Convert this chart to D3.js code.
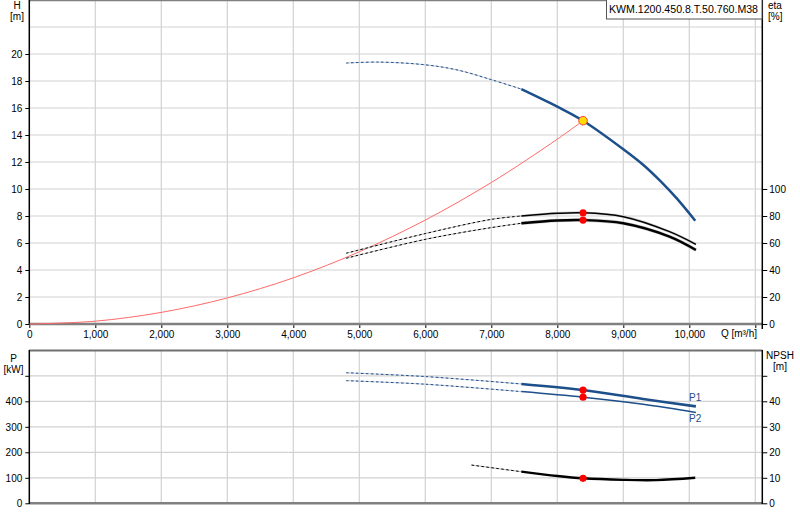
<!DOCTYPE html>
<html>
<head>
<meta charset="utf-8">
<script src="https://cdn.jsdelivr.net/npm/d3@7"></script>
<style>
  body { margin: 0; background: #fff; }
  svg { font-family: "Liberation Sans", Arial, sans-serif; font-size: 10px; }
</style>
</head>
<body>
<div id="chart"></div>
<script>
// pump curve data, read from the sheet
var qTicks = [0, 1000, 2000, 3000, 4000, 5000, 6000, 7000, 8000, 9000, 10000, 11000];
var hTicks = [0, 2, 4, 6, 8, 10, 12, 14, 16, 18, 20, 22, 24];
var etaTicks = [0, 20, 40, 60, 80, 100];
var pTicks = [0, 100, 200, 300, 400, 500, 600];
var npshTicks = [0, 10, 20, 30, 40, 50];

var pumpName = "KWM.1200.450.8.T.50.760.M38";
var solidFrom = 7455;      // curves dashed below this flow
var dutyQ = 8390;
var dutyH = 15.06;

// head curve
var qHead = [4800, 5300, 6000, 6500, 7000, 7455, 8000, 8390, 9000, 9300, 9560, 9810, 10090];
var head = [19.33, 19.4, 19.2, 18.8, 18.1, 17.4, 16.1, 15.06, 12.95, 11.8, 10.6, 9.3, 7.65];

// system curve
var qSys = [0, 1000, 2000, 3000, 4000, 5000, 6000, 7000, 8000, 8390];
var hSys = [0, 0.21, 0.86, 1.93, 3.42, 5.35, 7.7, 10.48, 13.69, 15.06];

// efficiencies
var qEta = [4800, 6000, 7000, 7455, 8000, 8390, 9000, 9700, 10100];
var eta1 = [52.4, 67.0, 77.5, 80.0, 82.0, 82.4, 79.5, 68.4, 59.0];
var eta2 = [48.7, 62.7, 71.4, 74.6, 76.7, 77.0, 74.6, 64.7, 54.8];

// power
var qPow = [4800, 6000, 7455, 8390, 9300, 10100];
var p1 = [512, 497, 468, 444, 409, 380];
var p2 = [481, 467, 438, 416, 388, 356];

// npsh
var qNpsh = [6700, 7455, 8000, 8390, 9000, 9500, 10090];
var npsh = [15.0, 12.4, 10.7, 9.8, 9.2, 9.1, 10.0];

var W = 800, H = 520;
var left = 29.3, right = 762.3;

var svg = d3.select("#chart").append("svg")
    .attr("width", W).attr("height", H);

var x = d3.scaleLinear().domain([0, 11000]).range([left, 755.3]);
var yH = d3.scaleLinear().domain([0, 24]).range([324, 0]);
var yEta = d3.scaleLinear().domain([0, 240]).range([324, 0]);
var yP = d3.scaleLinear().domain([0, 600]).range([503.3, 350.3]);
var yN = d3.scaleLinear().domain([0, 60]).range([503.3, 350.3]);

function zip(qs, vs) {
    return qs.map(function(q, i) { return [q, vs[i]]; });
}

// draw a curve, dashed part below solidFrom, solid part above
function curve(g, pts, ys, opt) {
    var line = d3.line()
        .x(function(d) { return x(d[0]); })
        .y(function(d) { return ys(d[1]); })
        .curve(d3.curveCatmullRom.alpha(0.5));
    var dashed = pts.filter(function(d) { return d[0] <= solidFrom; });
    var solid = pts.filter(function(d) { return d[0] >= solidFrom; });
    if (dashed.length > 1) {
        g.append("path").attr("d", line(dashed)).attr("fill", "none")
            .attr("stroke", opt.under).attr("stroke-width", 1);
        g.append("path").attr("d", line(dashed)).attr("fill", "none")
            .attr("stroke", opt.color).attr("stroke-width", 1)
            .attr("stroke-dasharray", "2.5,2.5");
    }
    if (opt.halo) {
        g.append("path").attr("d", line(solid)).attr("fill", "none")
            .attr("stroke", opt.halo).attr("stroke-width", opt.width + 1.2);
    }
    g.append("path").attr("d", line(solid)).attr("fill", "none")
        .attr("stroke", opt.color).attr("stroke-width", opt.width);
}

function grid(g, y0, y1, yScale, vals) {
    g.selectAll(".vg").data(qTicks.slice(1)).enter().append("line")
        .attr("x1", function(d) { return x(d); }).attr("x2", function(d) { return x(d); })
        .attr("y1", y0).attr("y2", y1)
        .attr("stroke", "#d2d2d2").attr("stroke-width", 1.2);
    g.selectAll(".hg").data(vals.slice(1)).enter().append("line")
        .attr("x1", left).attr("x2", right)
        .attr("y1", function(d) { return yScale(d); }).attr("y2", function(d) { return yScale(d); })
        .attr("stroke", "#d2d2d2").attr("stroke-width", 1.2);
}

function styleAxis(g) {
    g.select(".domain").remove();
    g.selectAll(".tick line").attr("stroke", "#000");
    g.selectAll(".tick text").attr("fill", "#000").style("font-size", "10px")
        .style("font-family", "Liberation Sans, Arial, sans-serif");
}

///////////////////////////////
// upper chart: head + eta
///////////////////////////////
var topG = svg.append("g");
grid(topG, 0, 324, yH, hTicks);

topG.append("line").attr("x1", left).attr("x2", right).attr("y1", 0.5).attr("y2", 0.5)
    .attr("stroke", "#808080").attr("stroke-width", 1.5);

var axL = topG.append("g").attr("transform", "translate(" + left + ",0)")
    .call(d3.axisLeft(yH).tickValues(hTicks.slice(0, 11)).tickSize(4).tickPadding(3));
styleAxis(axL);

var axR = topG.append("g").attr("transform", "translate(" + right + ",0)")
    .call(d3.axisRight(yEta).tickValues(etaTicks).tickSize(5).tickPadding(2));
styleAxis(axR);

var axX = topG.append("g").attr("transform", "translate(0,324)")
    .call(d3.axisBottom(x).tickValues(qTicks).tickSize(4).tickPadding(3)
        .tickFormat(function(d) { return d === 11000 ? "" : d3.format(",")(d); }));
styleAxis(axX);

topG.append("line").attr("x1", left).attr("x2", right).attr("y1", 324).attr("y2", 324)
    .attr("stroke", "#808080").attr("stroke-width", 2.5);
topG.append("line").attr("x1", left).attr("x2", left).attr("y1", 0).attr("y2", 325)
    .attr("stroke", "#000").attr("stroke-width", 1.5);
topG.append("line").attr("x1", right).attr("x2", right).attr("y1", 0).attr("y2", 329)
    .attr("stroke", "#000").attr("stroke-width", 1.5);

topG.append("text").attr("x", 757).attr("y", 337).attr("text-anchor", "end").text("Q [m³/h]");
topG.append("text").attr("x", 17).attr("y", 9).attr("text-anchor", "middle").text("H");
topG.append("text").attr("x", 17).attr("y", 20).attr("text-anchor", "middle").text("[m]");
topG.append("text").attr("x", 768).attr("y", 9).text("eta");
topG.append("text").attr("x", 768).attr("y", 20).text("[%]");

// name box
topG.append("rect").attr("x", 606.5).attr("y", -1).attr("width", 155.5).attr("height", 20)
    .attr("fill", "#fff").attr("stroke", "#555").attr("stroke-width", 1);
topG.append("text").attr("x", 609).attr("y", 12.5).style("font-size", "10.6px").text(pumpName);

// system curve
topG.append("path")
    .attr("d", d3.line().x(function(d) { return x(d[0]); }).y(function(d) { return yH(d[1]); })
        .curve(d3.curveCatmullRom.alpha(0.5))(zip(qSys, hSys)))
    .attr("fill", "none").attr("stroke", "#ff6a6a").attr("stroke-width", 1);

curve(topG, zip(qEta, eta1), yEta, {color: "#000", under: "#b8b8b8", width: 1.5, halo: "#d0d0d0"});
curve(topG, zip(qEta, eta2), yEta, {color: "#000", under: "#b8b8b8", width: 2.4, halo: "#d0d0d0"});
curve(topG, zip(qHead, head), yH, {color: "#1d4f8a", under: "#bcc5d4", width: 2.5});

var dutyI = qEta.indexOf(dutyQ);
[eta1[dutyI], eta2[dutyI]].forEach(function(v) {
    topG.append("circle").attr("cx", x(dutyQ)).attr("cy", yEta(v)).attr("r", 3.6).attr("fill", "#ff0000");
});
topG.append("circle").attr("cx", x(dutyQ)).attr("cy", yH(dutyH)).attr("r", 4.3)
    .attr("fill", "#ffdd00").attr("stroke", "#ff3c3c").attr("stroke-width", 1);

///////////////////////////////
// lower chart: power + npsh
///////////////////////////////
var botG = svg.append("g");
grid(botG, 350, 503, yP, pTicks.slice(0, 6));

var axPL = botG.append("g").attr("transform", "translate(" + left + ",0)")
    .call(d3.axisLeft(yP).tickValues(pTicks.slice(0, 6)).tickSize(4).tickPadding(3)
        .tickFormat(function(d) { return d === 500 ? "" : d; }));
styleAxis(axPL);
var axPR = botG.append("g").attr("transform", "translate(" + right + ",0)")
    .call(d3.axisRight(yN).tickValues(npshTicks).tickSize(5).tickPadding(2)
        .tickFormat(function(d) { return d === 50 ? "" : d; }));
styleAxis(axPR);

botG.append("line").attr("x1", left).attr("x2", right).attr("y1", 350.5).attr("y2", 350.5)
    .attr("stroke", "#707070").attr("stroke-width", 2);
botG.append("line").attr("x1", left).attr("x2", right).attr("y1", 503.3).attr("y2", 503.3)
    .attr("stroke", "#808080").attr("stroke-width", 2.5);
botG.append("line").attr("x1", left).attr("x2", left).attr("y1", 350).attr("y2", 504)
    .attr("stroke", "#000").attr("stroke-width", 1.5);
botG.append("line").attr("x1", right).attr("x2", right).attr("y1", 350).attr("y2", 504)
    .attr("stroke", "#000").attr("stroke-width", 1.5);

botG.append("text").attr("x", 13.5).attr("y", 362).attr("text-anchor", "middle").text("P");
botG.append("text").attr("x", 13.5).attr("y", 373).attr("text-anchor", "middle").text("[kW]");
botG.append("text").attr("x", 780).attr("y", 359).attr("text-anchor", "middle").text("NPSH");
botG.append("text").attr("x", 780).attr("y", 370).attr("text-anchor", "middle").text("[m]");

curve(botG, zip(qPow, p2), yP, {color: "#1d4f8a", under: "#bcc5d4", width: 1.5});
curve(botG, zip(qPow, p1), yP, {color: "#1d4f8a", under: "#bcc5d4", width: 2.6});
curve(botG, zip(qNpsh, npsh), yN, {color: "#000", under: "#b8b8b8", width: 2.4});

botG.append("text").attr("x", 689).attr("y", 401).attr("fill", "#1d4f8a").text("P1");
botG.append("text").attr("x", 689).attr("y", 422).attr("fill", "#1d4f8a").text("P2");

var pI = qPow.indexOf(dutyQ);
botG.append("circle").attr("cx", x(dutyQ)).attr("cy", yP(p1[pI])).attr("r", 3.6).attr("fill", "#ff0000");
botG.append("circle").attr("cx", x(dutyQ)).attr("cy", yP(p2[pI])).attr("r", 3.6).attr("fill", "#ff0000");
botG.append("circle").attr("cx", x(dutyQ)).attr("cy", yN(npsh[qNpsh.indexOf(dutyQ)])).attr("r", 3.6).attr("fill", "#ff0000");
</script>
</body>
</html>
